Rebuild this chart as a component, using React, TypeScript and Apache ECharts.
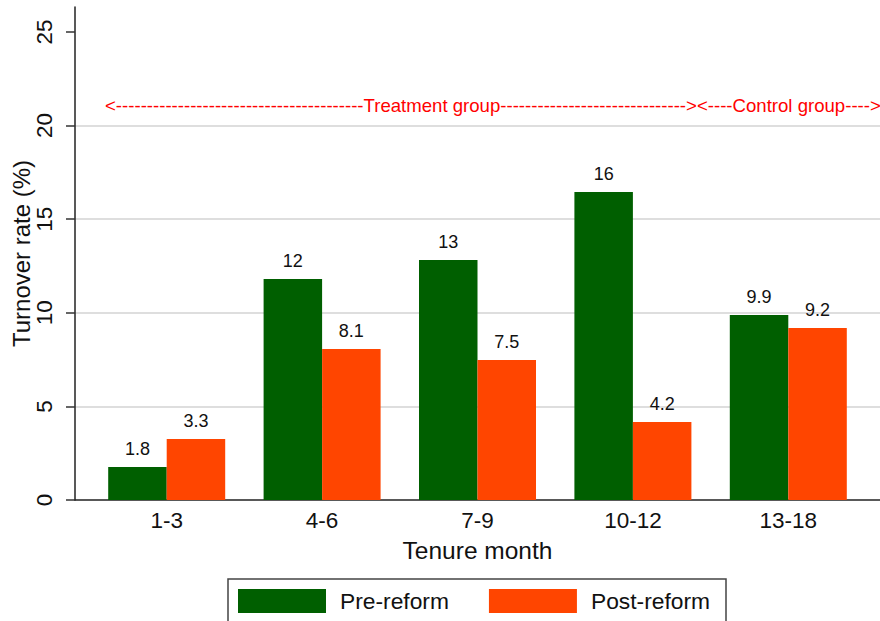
import React, { useEffect, useRef } from "react";
import * as echarts from "echarts";

const categories = ["1-3", "4-6", "7-9", "10-12", "13-18"];
const preReform = [1.76, 11.8, 12.82, 16.45, 9.88];
const postReform = [3.26, 8.07, 7.48, 4.17, 9.19];
const yTicks = { min: 0, max: 25, interval: 5 };
const seriesNames = ["Pre-reform", "Post-reform"];
const annotation =
  "<" + "-".repeat(40) + "Treatment group" + "-".repeat(30) + "><" + "-".repeat(4) + "Control group" + "-".repeat(4) + ">";

const FONT = "'Liberation Sans', Arial, Helvetica, sans-serif";
const GREEN = "#005f00";
const ORANGE = "#ff4500";

export default function App() {
  const ref = useRef<HTMLDivElement>(null);
  useEffect(() => {
    if (!ref.current) return;
    const chart = echarts.init(ref.current, null, { renderer: "svg" });
    const fmt = (p: any) => String(Number(Number(p.value).toPrecision(2)));
    chart.setOption({
      animation: false,
      backgroundColor: "#ffffff",
      textStyle: { fontFamily: FONT },
      grid: [
        { left: 75, right: 0, top: 7, bottom: 121 },
        { left: 75, right: 0, top: 32, bottom: 121 },
        { left: 89, right: 14, top: 32, bottom: 121 },
      ],
      xAxis: [
        {
          gridIndex: 0, type: "value", min: 0, max: 1,
          axisLine: { show: true, onZero: false, lineStyle: { color: "#222", width: 1.5 } },
          axisTick: { show: false }, axisLabel: { show: false }, splitLine: { show: false },
        },
        {
          gridIndex: 1, type: "value", min: 0, max: 1, show: false,
        },
        {
          gridIndex: 2, type: "category", data: categories,
          axisLine: { show: false }, axisTick: { show: false },
          axisLabel: { fontSize: 22.5, color: "#111", margin: 9, fontFamily: FONT },
          name: "Tenure month", nameLocation: "middle", nameGap: 38,
          nameTextStyle: { fontSize: 24.5, color: "#111", fontFamily: FONT },
        },
      ],
      yAxis: [
        {
          gridIndex: 0, type: "value", min: 0, max: 1,
          axisLine: { show: true, onZero: false, lineStyle: { color: "#222", width: 1.5 } },
          axisTick: { show: false }, axisLabel: { show: false }, splitLine: { show: false },
          name: "Turnover rate (%)", nameLocation: "middle", nameGap: 42,
          nameTextStyle: { fontSize: 24, color: "#111", fontFamily: FONT },
        },
        {
          gridIndex: 1, type: "value", min: yTicks.min, max: yTicks.max, interval: yTicks.interval,
          axisLine: { show: false },
          axisTick: { show: true, length: 9, lineStyle: { color: "#333", width: 1.5 } },
          axisLabel: { rotate: 90, fontSize: 22.5, color: "#111", margin: 19, fontFamily: FONT },
          splitLine: { show: true, showMinLine: false, showMaxLine: false, lineStyle: { color: "#dedede", width: 2 } },
        },
        {
          gridIndex: 2, type: "value", min: yTicks.min, max: yTicks.max, interval: yTicks.interval, show: false,
        },
      ],
      legend: {
        data: seriesNames,
        left: 228, top: 579,
        padding: [10, 16, 12, 10],
        itemWidth: 88, itemHeight: 24, itemGap: 40,
        icon: "rect",
        borderColor: "#444", borderWidth: 1.5,
        textStyle: { fontSize: 22.8, color: "#111", fontFamily: FONT, padding: [0, 0, 0, 9] },
        selectedMode: false,
      },
      series: [
        {
          name: seriesNames[0], type: "bar", xAxisIndex: 2, yAxisIndex: 2,
          data: preReform, barWidth: 58.5, barGap: "0%",
          itemStyle: { color: GREEN },
          label: { show: true, position: "top", distance: 9, fontSize: 18, color: "#111", fontFamily: FONT, formatter: fmt },
        },
        {
          name: seriesNames[1], type: "bar", xAxisIndex: 2, yAxisIndex: 2,
          data: postReform, barWidth: 58.5, barGap: "0%",
          itemStyle: { color: ORANGE },
          label: { show: true, position: "top", distance: 9, fontSize: 18, color: "#111", fontFamily: FONT, formatter: fmt },
        },
      ],
      graphic: [
        {
          type: "text", left: 105, top: 96,
          style: { text: annotation, fontSize: 18.6, fill: "#ff0000", fontFamily: FONT },
        },
      ],
    });
    return () => chart.dispose();
  }, []);
  return (
    <div
      ref={ref}
      style={{ position: "absolute", left: 0, top: 0, width: 880, height: 621 }}
    />
  );
}
